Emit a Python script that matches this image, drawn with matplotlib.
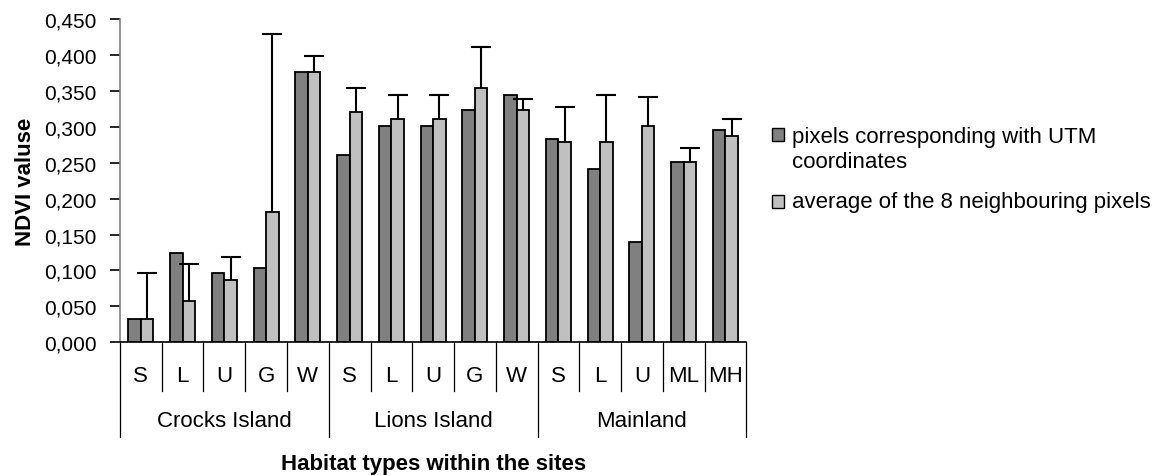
import numpy as np
import matplotlib
matplotlib.use("Agg")
from matplotlib import pyplot as plt
from matplotlib.patches import Rectangle

plt.rcParams['font.family'] = ['Liberation Sans', 'DejaVu Sans']

habitats = ['S', 'L', 'U', 'G', 'W', 'S', 'L', 'U', 'G', 'W', 'S', 'L', 'U', 'ML', 'MH']
sites = ['Crocks Island', 'Lions Island', 'Mainland']
site_sizes = [5, 5, 5]

utm_pixel = [0.033, 0.124, 0.097, 0.104, 0.376, 0.261, 0.301, 0.301, 0.324, 0.344,
             0.283, 0.241, 0.139, 0.251, 0.296]
neighbour_avg = [0.033, 0.057, 0.087, 0.182, 0.376, 0.321, 0.311, 0.311, 0.354, 0.324,
                 0.279, 0.279, 0.301, 0.251, 0.287]
neighbour_err = [0.064, 0.052, 0.032, 0.247, 0.022, 0.033, 0.033, 0.033, 0.057, 0.015,
                 0.048, 0.065, 0.040, 0.020, 0.024]
series_names = ['pixels corresponding with UTM\ncoordinates',
                'average of the 8 neighbouring pixels']

fs = 16
dark = '#808080'
light = '#c0c0c0'

fig = plt.figure(figsize=(11.68, 4.77), dpi=100)
ax = fig.add_axes([0.1027, 0.2803, 0.5363, 0.6778])

x = np.arange(len(habitats))
w = 0.3
ax.bar(x - w / 2, utm_pixel, w, color=dark, edgecolor='black', linewidth=1.3)
ax.bar(x + w / 2, neighbour_avg, w, color=light, edgecolor='black', linewidth=1.3)
# upper-only error bars on the neighbour averages
_, caps, _ = ax.errorbar(x + w / 2, neighbour_avg, yerr=[np.zeros(len(x)), neighbour_err],
                         fmt='none', ecolor='black', elinewidth=1.5, capsize=7, capthick=1.5)
caps[0].set_visible(False)

ax.set_xlim(-0.5, len(habitats) - 0.5)
ax.set_ylim(0, 0.45)
yt = np.arange(0, 0.451, 0.05)
ax.set_yticks(yt)
ax.set_yticklabels([f"{v:.3f}".replace('.', ',') for v in yt], fontsize=15)
ax.tick_params(axis='y', direction='out', length=7, width=1.2, pad=10)
ax.set_xticks([])

for s in ['top', 'right']:
    ax.spines[s].set_visible(False)
ax.spines['left'].set_color('#808080')
ax.spines['left'].set_linewidth(1.2)
ax.spines['bottom'].set_linewidth(1.2)

# two-level category axis under the bars
tr = ax.get_xaxis_transform()
bounds = np.concatenate([[0], np.cumsum(site_sizes)]) - 0.5
for k in range(len(habitats) + 1):
    xb = k - 0.5
    y_end = -0.293 if xb in bounds else -0.15
    ax.plot([xb, xb], [0, y_end], transform=tr, color='black', lw=0.9, clip_on=False)
for i, lab in enumerate(habitats):
    ax.text(i, -0.103, lab, transform=tr, ha='center', va='center', fontsize=fs)
for j, site in enumerate(sites):
    ax.text((bounds[j] + bounds[j + 1]) / 2, -0.2425, site, transform=tr,
            ha='center', va='center', fontsize=fs)

ax.text(0.5, -0.376, 'Habitat types within the sites', transform=ax.transAxes,
        ha='center', va='center', fontsize=fs, fontweight='bold')
ax.set_ylabel('NDVI valuse', fontsize=fs, fontweight='bold')
ax.yaxis.set_label_coords(-0.134, 0.5)

# legend, square aligned with the first line of each entry
H = 477.0
W = 1168.0
square_base = [141.0, 208.0]
text_base = [167.6, 208.0]  # baseline of the last line of each label
for color, name, sb, tb in zip([dark, light], series_names, square_base, text_base):
    fig.add_artist(Rectangle((771.7 / W, 1 - (sb + 0.5) / H), 12.6 / W, 12.6 / H,
                             transform=fig.transFigure, facecolor=color,
                             edgecolor='black', linewidth=1.0))
    fig.text(791.7 / W, 1 - tb / H, name, fontsize=fs, ha='left', va='baseline',
             linespacing=1.2)

fig.savefig('out.png', dpi=100)
